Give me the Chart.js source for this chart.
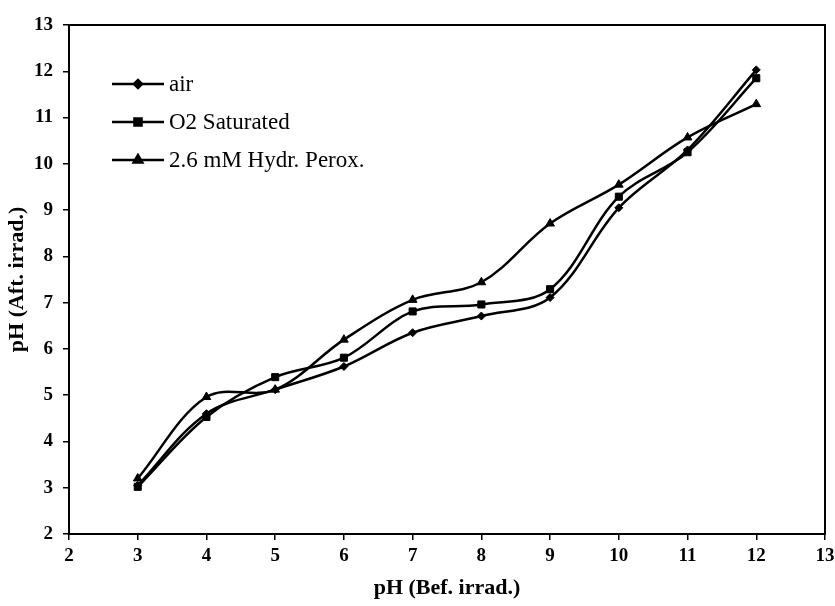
<!DOCTYPE html>
<html>
<head>
<meta charset="utf-8">
<script src="https://cdn.jsdelivr.net/npm/chart.js@4/dist/chart.umd.min.js"></script>
<style>
  html, body { margin: 0; padding: 0; background: #fff; }
  #wrap { width: 835px; height: 606px; }
</style>
</head>
<body>
<div id="wrap"><canvas id="phChart" width="835" height="606"></canvas></div>
<script>
// pH before irradiation (x) and after irradiation (y)
const phBefore = [3, 4, 5, 6, 7, 8, 9, 10, 11, 12];
const airValues = [3.05, 4.6, 5.12, 5.62, 6.35, 6.71, 7.11, 9.05, 10.3, 12.03];
const o2Values = [3.02, 4.53, 5.39, 5.81, 6.81, 6.96, 7.29, 9.29, 10.25, 11.85];
const peroxValues = [3.2, 4.96, 5.12, 6.2, 7.06, 7.44, 8.71, 9.55, 10.57, 11.29];
const seriesNames = ['air', 'O2 Saturated', '2.6 mM Hydr. Perox.'];
const axisMin = 2;
const axisMax = 13;

const serif = "'Liberation Serif', 'Times New Roman', serif";

function toPoints(values) {
    return phBefore.map((x, i) => ({ x: x, y: values[i] }));
}

// frame round the plot area
const frameBox = {
    id: 'frameBox',
    afterDatasetsDraw(chart) {
        const { ctx, chartArea } = chart;
        ctx.save();
        ctx.strokeStyle = '#000';
        ctx.lineWidth = 2;
        ctx.strokeRect(chartArea.left, chartArea.top, chartArea.right - chartArea.left, chartArea.bottom - chartArea.top);
        ctx.restore();
    }
};

// legend drawn inside the plot, top left
const innerLegend = {
    id: 'innerLegend',
    afterDraw(chart) {
        const { ctx } = chart;
        const x0 = 112, x1 = 164, rowY = [84, 122, 160];
        ctx.save();
        chart.data.datasets.forEach((ds, i) => {
            const y = rowY[i];
            ctx.strokeStyle = '#000';
            ctx.lineWidth = 2.5;
            ctx.beginPath();
            ctx.moveTo(x0, y);
            ctx.lineTo(x1, y);
            ctx.stroke();
            Chart.helpers.drawPoint(ctx, {
                pointStyle: ds.pointStyle,
                radius: ds.pointRadius,
                rotation: 0,
                borderWidth: 1
            }, (x0 + x1) / 2, y);
            ctx.fillStyle = '#000';
            ctx.font = '23px ' + serif;
            ctx.textBaseline = 'middle';
            ctx.textAlign = 'left';
            ctx.fillText(ds.label, x1 + 5, y + 1);
        });
        ctx.restore();
    }
};

function makeSet(label, values, style, radius) {
    return {
        label: label,
        data: toPoints(values),
        borderColor: '#000',
        backgroundColor: '#000',
        borderWidth: 2.5,
        pointStyle: style,
        pointRadius: radius,
        pointBorderWidth: 1,
        pointBackgroundColor: '#000',
        pointBorderColor: '#000',
        tension: 0.35,
        fill: false
    };
}

new Chart(document.getElementById('phChart'), {
    type: 'line',
    data: {
        datasets: [
            makeSet(seriesNames[0], airValues, 'rectRot', 4),
            makeSet(seriesNames[1], o2Values, 'rect', 5),
            makeSet(seriesNames[2], peroxValues, 'triangle', 5)
        ]
    },
    options: {
        responsive: false,
        animation: false,
        layout: { padding: { top: 25, right: 0, left: 0, bottom: 0 } },
        plugins: {
            legend: { display: false },
            tooltip: { enabled: false }
        },
        scales: {
            x: {
                type: 'linear',
                min: axisMin,
                max: axisMax,
                afterFit(scale) {
                    scale.height = 72;
                    scale.paddingRight = 10;
                },
                border: { display: true, color: '#000', width: 2 },
                grid: { drawOnChartArea: false, drawTicks: true, tickLength: 6, color: '#000', lineWidth: 1.5 },
                ticks: {
                    stepSize: 1,
                    color: '#000',
                    padding: 5,
                    font: { family: serif, size: 19, weight: 'bold' }
                },
                title: {
                    display: true,
                    text: 'pH (Bef. irrad.)',
                    color: '#000',
                    padding: { top: 2 },
                    font: { family: serif, size: 22, weight: 'bold' }
                }
            },
            y: {
                type: 'linear',
                min: axisMin,
                max: axisMax,
                afterFit(scale) { scale.width = 69; },
                border: { display: true, color: '#000', width: 2 },
                grid: { drawOnChartArea: false, drawTicks: true, tickLength: 6, color: '#000', lineWidth: 1.5 },
                ticks: {
                    stepSize: 1,
                    color: '#000',
                    padding: 10,
                    font: { family: serif, size: 19, weight: 'bold' }
                },
                title: {
                    display: true,
                    text: 'pH (Aft. irrad.)',
                    color: '#000',
                    padding: { bottom: 0 },
                    font: { family: serif, size: 22, weight: 'bold' }
                }
            }
        }
    },
    plugins: [frameBox, innerLegend]
});
</script>
</body>
</html>
